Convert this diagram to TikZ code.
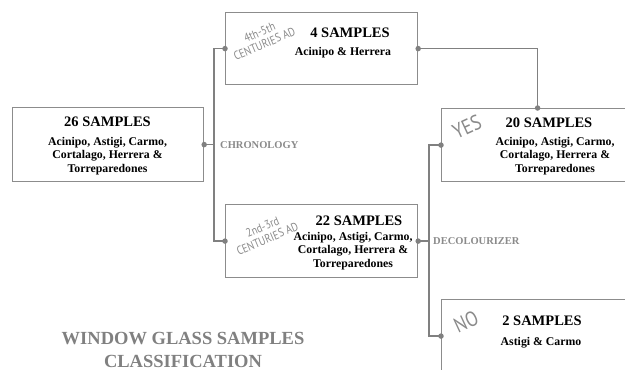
\documentclass[tikz,border=0pt]{standalone}
\usepackage{fontspec}
\setmainfont{Liberation Serif}
\newfontfamily\handfont{PT Sans}[FakeStretch=0.85]
\usetikzlibrary{calc}

\definecolor{linegray}{HTML}{808080}
\definecolor{boxgray}{HTML}{8C8C8C}
\definecolor{labelgray}{HTML}{8A8A8A}

\tikzset{
    sample box/.style = {draw=boxgray, line width=1.2pt, minimum width=192pt, minimum height=73pt, inner sep=0pt},
    head/.style = {font=\bfseries\fontsize{14.5}{16}\selectfont, inner sep=0pt},
    sites/.style = {font=\bfseries\fontsize{11.8}{13.2}\selectfont, align=center, inner sep=0pt},
    period/.style = {text=labelgray, rotate=23, align=center, inner sep=0pt, font=\handfont\fontsize{12}{12.5}\selectfont},
    answer/.style = {text=labelgray, rotate=25, inner sep=0pt, font=\handfont\fontsize{21}{22}\selectfont},
    branch/.style = {text=labelgray, inner sep=0pt, font=\bfseries\fontsize{10.5}{12}\selectfont},
    link/.style = {draw=linegray, line width=1.4pt},
    joint/.style = {circle, fill=linegray, inner sep=0pt, minimum size=5.5pt}
}

\begin{document}
\begin{tikzpicture}[x=1pt, y=-1pt]
    \useasboundingbox (0,0) rectangle (625,370);
    \clip (0,0) rectangle (625,370);

    % boxes
    \node[sample box, anchor=north west, minimum height=74pt, minimum width=191pt] (b26) at (12,107) {};
    \node[sample box, anchor=north west, minimum height=72pt] (b4) at (225,12) {};
    \node[sample box, anchor=north west] (b22) at (225,204) {};
    \node[sample box, anchor=north west] (b20) at (441,108) {};
    \node[sample box, anchor=north west] (b2) at (441,299) {};

    % texts in the boxes
    \node[head] (h26) at (107.5,122) {26 SAMPLES};
    \node[sites] (s26) at (107.5,156) {Acinipo, Astigi, Carmo,\\Cortalago, Herrera \&\\Torreparedones};
    \node[head] (h4) at (350,33) {4 SAMPLES};
    \node[sites] (s4) at (343,53) {Acinipo \& Herrera};
    \node[head] (h22) at (359,221) {22 SAMPLES};
    \node[sites] (s22) at (353,251) {Acinipo, Astigi, Carmo,\\Cortalago, Herrera \&\\Torreparedones};
    \node[head] (h20) at (549,123) {20 SAMPLES};
    \node[sites] (s20) at (555,156) {Acinipo, Astigi, Carmo,\\Cortalago, Herrera \&\\Torreparedones};
    \node[head] (h2) at (542,321) {2 SAMPLES};
    \node[sites] (s2) at (541,343) {Astigi \& Carmo};

    % handwritten tags
    \node[period] (p45) at (262,38) {4th-5th\\CENTURIES AD};
    \node[period] (p23) at (265,233) {2nd-3rd\\CENTURIES AD};
    \node[answer] (yes) at (467,127) {YES};
    \node[answer] (no) at (466,322) {NO};

    % connectors
    \coordinate (split1) at ([xshift=-11pt]b4.west);
    \coordinate (split2) at ([xshift=-12pt]b20.west);
    \draw[link] (b4.west) -- (split1) |- (b22.west);
    \draw[link] (b26.east) -- (b26.east -| split1);
    \draw[link] (b20.west) -- (split2) |- (b2.west);
    \draw[link] (b22.east) -- (b22.east -| split2);
    \draw[link] (b4.east) -| (b20.north);
    \foreach \p in {b26.east, b4.west, b4.east, b22.west, b22.east, b20.west, b20.north, b2.west}
        \node[joint] at (\p) {};

    \node[branch, anchor=west] (chronology) at ([xshift=6pt]b26.east -| split1) {CHRONOLOGY};
    \node[branch, anchor=west] (decolourizer) at ([xshift=4pt]b22.east -| split2) {DECOLOURIZER};

    \node[text=linegray, align=center, font=\bfseries\fontsize{18.5}{23}\selectfont] (title) at (183,350) {WINDOW GLASS SAMPLES\\CLASSIFICATION};
\end{tikzpicture}
\end{document}
